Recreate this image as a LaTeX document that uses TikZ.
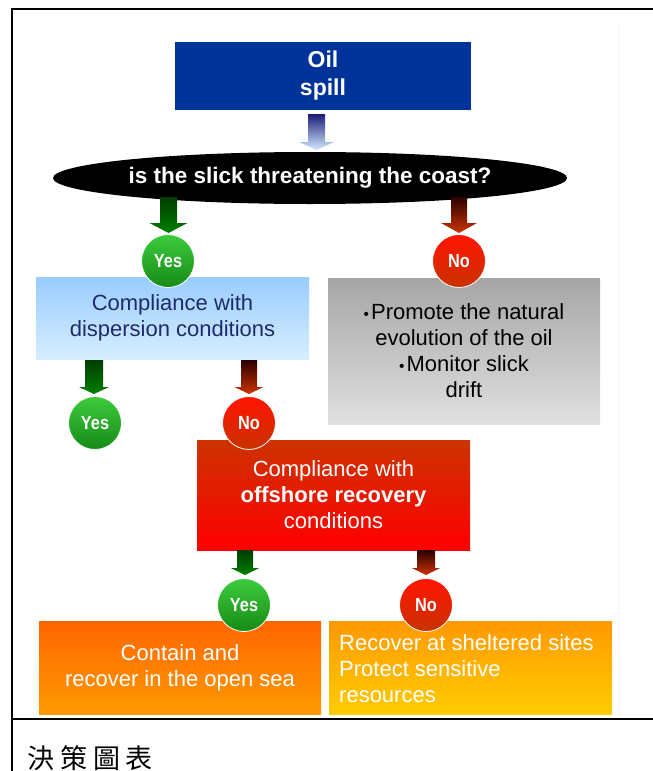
\documentclass[tikz,border=0pt]{standalone}
\usepackage{fontspec}
\usepackage{graphicx}
\setmainfont{Liberation Sans}
\newfontfamily\cjkfont[LetterSpace=22]{Noto Sans CJK TC}
\usetikzlibrary{shapes.geometric,calc}
\definecolor{oilblue}{HTML}{003399}
\definecolor{navytext}{HTML}{1F2A6B}
\definecolor{bluetop}{HTML}{99CCFF}
\definecolor{bluebot}{HTML}{D6EEFF}
\definecolor{greytop}{HTML}{A6A6A6}
\definecolor{greybot}{HTML}{E0E0E0}
\definecolor{redtop}{HTML}{CC3300}
\definecolor{redbot}{HTML}{FF0000}
\definecolor{orgtop}{HTML}{FF6600}
\definecolor{orgbot}{HTML}{FF9900}
\definecolor{yeltop}{HTML}{FF9900}
\definecolor{yelbot}{HTML}{FFCC00}
\definecolor{gcirctop}{HTML}{3DCC3D}
\definecolor{gcircbot}{HTML}{168A16}
\definecolor{rcirctop}{HTML}{FF1500}
\definecolor{rcircbot}{HTML}{C83200}
\definecolor{garrtop}{HTML}{003D00}
\definecolor{garrbot}{HTML}{008000}
\definecolor{rarrtop}{HTML}{2A0000}
\definecolor{rarrbot}{HTML}{CC3300}
\definecolor{barrtop}{HTML}{1C1C78}
\definecolor{barrbot}{HTML}{D2ECFF}
\definecolor{faint}{HTML}{F4F4F4}
% block arrow: #1 start, #2 tip, #3 half shaft, #4 half head, #5 head length, #6 top, #7 bottom
\newcommand\barrow[7]{%
  \shade[top color=#6,bottom color=#7] let \p1=(#1),\p2=(#2) in
    (\x1-#3pt,\y1) -- (\x1+#3pt,\y1) -- (\x1+#3pt,\y2+#5pt) -- (\x1+#4pt,\y2+#5pt)
    -- (\x1,\y2) -- (\x1-#4pt,\y2+#5pt) -- (\x1-#3pt,\y2+#5pt) -- cycle;}
\newcommand\narrowtxt[1]{\scalebox{0.86}[1]{#1}}
\newcommand\bul{{\scalebox{0.7}{•}}\hspace{2pt}}
\begin{document}
\begin{tikzpicture}[x=1pt,y=-1pt,
  rbox/.style={rectangle,inner sep=0pt,align=center},
  btext/.style={font=\fontsize{22}{26}\selectfont},
  circ/.style={circle,minimum size=53pt,inner sep=0pt,draw=white,line width=0.8pt,
    text=white,font=\fontsize{19}{20}\selectfont\bfseries},
  yescirc/.style={circ,top color=gcirctop,bottom color=gcircbot},
  nocirc/.style={circ,top color=rcirctop,bottom color=rcircbot},
  rule/.style={line width=2.4pt,black}]
\useasboundingbox (0,0) rectangle (653,771);
% table frame
\draw[rule] (653,9) -- (12,9) -- (12,771);
\draw[rule] (12,719) -- (653,719);
\draw[faint,line width=1pt] (619,25) -- (619,716);
% oil spill
\node[rbox,fill=oilblue,minimum width=296pt,minimum height=68pt,text=white,
  font=\fontsize{23}{28}\selectfont\bfseries] (oil) at (323,76) {Oil\\spill};
% question ellipse
\node[ellipse,fill=black,minimum width=514pt,minimum height=52pt,inner sep=0pt] (q) at (310,178) {};
\node[text=white,font=\fontsize{22.5}{26}\selectfont\bfseries,inner sep=0pt] (qt) at (q.center) {is the slick threatening the coast?};
% boxes
\node[rbox,btext,top color=bluetop,bottom color=bluebot,minimum width=273pt,minimum height=82pt,text=navytext] (disp) at (172.5,318) {Compliance with\\dispersion conditions};
\node[rbox,btext,top color=greytop,bottom color=greybot,minimum width=272pt,minimum height=146pt,text=black] (nat) at (464,351) {\bul Promote the natural\\evolution of the oil\\\bul Monitor slick\\drift};
\node[rbox,btext,top color=redtop,bottom color=redbot,minimum width=273pt,minimum height=110pt,text=white] (off) at (333.5,495) {Compliance with\\\textbf{offshore recovery}\\conditions};
\node[rbox,btext,top color=orgtop,bottom color=orgbot,minimum width=282pt,minimum height=93pt,text=white] (sea) at (180,667.5) {Contain and\\recover in the open sea};
\node[rbox,top color=yeltop,bottom color=yelbot,minimum width=283pt,minimum height=93pt] (shel) at (470.5,667.5) {};
\node[anchor=west,align=left,inner sep=0pt,btext,text=white] (shelt) at (339,668.5) {Recover at sheltered sites\\Protect sensitive\\resources};
% arrow end points
\coordinate (a1s) at (316.5,114); \coordinate (a1e) at (316.5,150);
\coordinate (a2s) at (168.5,197); \coordinate (a2e) at (168.5,233);
\coordinate (a3s) at (459,197);   \coordinate (a3e) at (459,233);
\coordinate (a4s) at (94,360);    \coordinate (a4e) at (94,394);
\coordinate (a5s) at (249,360);   \coordinate (a5e) at (249,394);
\coordinate (a6s) at (245,550);   \coordinate (a6e) at (245,575);
\coordinate (a7s) at (426,550);   \coordinate (a7e) at (426,575);
\barrow{a1s}{a1e}{8.5}{17.5}{8}{barrtop}{barrbot}
\barrow{a2s}{a2e}{8.5}{19}{10}{garrtop}{garrbot}
\barrow{a3s}{a3e}{8}{18}{10}{rarrtop}{rarrbot}
\barrow{a4s}{a4e}{9}{15}{7}{garrtop}{garrbot}
\barrow{a5s}{a5e}{8}{14.5}{7}{rarrtop}{rarrbot}
\barrow{a6s}{a6e}{8}{14}{7}{garrtop}{garrbot}
\barrow{a7s}{a7e}{9}{14}{7}{rarrtop}{rarrbot}
% yes / no circles
\node[yescirc] (y1) at (168,261) {\narrowtxt{Yes}};
\node[nocirc]  (n1) at (459,261) {\narrowtxt{No}};
\node[yescirc] (y2) at (95,423) {\narrowtxt{Yes}};
\node[nocirc]  (n2) at (249,423) {\narrowtxt{No}};
\node[yescirc] (y3) at (244,605) {\narrowtxt{Yes}};
\node[nocirc]  (n3) at (426,605) {\narrowtxt{No}};
% caption
\node[anchor=west,inner sep=0pt] (cap) at (27,758) {\cjkfont\fontsize{27}{29}\selectfont 決策圖表};
\end{tikzpicture}
\end{document}
